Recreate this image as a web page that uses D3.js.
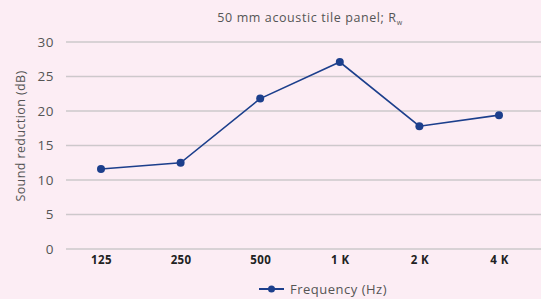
<!DOCTYPE html>
<html lang="en">
<head>
<meta charset="UTF-8" />
<title>50 mm acoustic tile panel</title>
<script src="https://cdn.jsdelivr.net/npm/d3@7"></script>
<style>
  html, body { margin: 0; padding: 0; background: #fcedf4; }
  svg { display: block; font-family: "Open Sans", Lato, sans-serif; }
</style>
</head>
<body>
<div id="chart"></div>
<script>
// data
const frequencies = ["125", "250", "500", "1 K", "2 K", "4 K"];
const reduction = [11.6, 12.5, 21.8, 27.1, 17.8, 19.4];
const yTicks = [0, 5, 10, 15, 20, 25, 30];

const width = 541, height = 299;
const lineColor = "#1c3f8c";

const svg = d3.select("#chart")
  .append("svg")
  .attr("width", width)
  .attr("height", height);

svg.append("rect")
  .attr("width", width)
  .attr("height", height)
  .attr("fill", "#fcedf4");

const x = d3.scalePoint()
  .domain(frequencies)
  .range([101, 499]);

const y = d3.scaleLinear()
  .domain([0, 30])
  .range([249, 42]);

// gridlines
svg.append("g")
  .selectAll("line")
  .data(yTicks)
  .enter().append("line")
  .attr("x1", 66)
  .attr("x2", width)
  .attr("y1", d => y(d))
  .attr("y2", d => y(d))
  .attr("stroke", "#cdc8cb")
  .attr("stroke-width", 1.3);

// y axis labels
const yAxis = svg.append("g")
  .attr("transform", "translate(54,0)")
  .call(d3.axisLeft(y).tickValues(yTicks).tickSize(0).tickPadding(0));
yAxis.select(".domain").remove();
yAxis.selectAll("text")
  .attr("fill", "#555")
  .attr("font-size", 13.5)
  .attr("letter-spacing", 0.5)
  .attr("font-family", "'Open Sans', Lato, sans-serif");

// x axis labels
const xAxis = svg.append("g")
  .attr("transform", "translate(0,254)")
  .call(d3.axisBottom(x).tickSize(0).tickPadding(0));
xAxis.select(".domain").remove();
xAxis.selectAll("text")
  .attr("dy", "0.9em")
  .attr("fill", "#222")
  .attr("font-size", 11.5)
  .attr("font-weight", "bold")
  .attr("letter-spacing", 0.4)
  .attr("font-family", "'Open Sans', Lato, sans-serif");

// y axis title
svg.append("text")
  .attr("transform", "translate(25,136) rotate(-90)")
  .attr("text-anchor", "middle")
  .attr("fill", "#555")
  .attr("font-size", 12.5)
  .attr("letter-spacing", 0.4)
  .text("Sound reduction (dB)");

// chart title
const title = svg.append("text")
  .attr("x", 310)
  .attr("y", 22)
  .attr("text-anchor", "middle")
  .attr("fill", "#555")
  .attr("font-size", 12.5)
  .attr("letter-spacing", 0.6);
title.append("tspan").text("50 mm acoustic tile panel; R");
title.append("tspan").attr("font-size", 7).attr("dy", 3).text("w");

// series line
const line = d3.line()
  .x((d, i) => x(frequencies[i]))
  .y(d => y(d));

svg.append("path")
  .datum(reduction)
  .attr("fill", "none")
  .attr("stroke", lineColor)
  .attr("stroke-width", 1.6)
  .attr("d", line);

svg.append("g")
  .selectAll("circle")
  .data(reduction)
  .enter().append("circle")
  .attr("cx", (d, i) => x(frequencies[i]))
  .attr("cy", d => y(d))
  .attr("r", 4)
  .attr("fill", lineColor);

// legend
const legend = svg.append("g").attr("transform", "translate(259,289)");
legend.append("line")
  .attr("x1", 0).attr("x2", 25)
  .attr("stroke", lineColor)
  .attr("stroke-width", 2);
legend.append("circle")
  .attr("cx", 12.5)
  .attr("r", 3.5)
  .attr("fill", lineColor);
legend.append("text")
  .attr("x", 31)
  .attr("y", 0)
  .attr("dy", "0.35em")
  .attr("fill", "#555")
  .attr("font-size", 13)
  .attr("letter-spacing", 0.5)
  .text("Frequency (Hz)");
</script>
</body>
</html>
